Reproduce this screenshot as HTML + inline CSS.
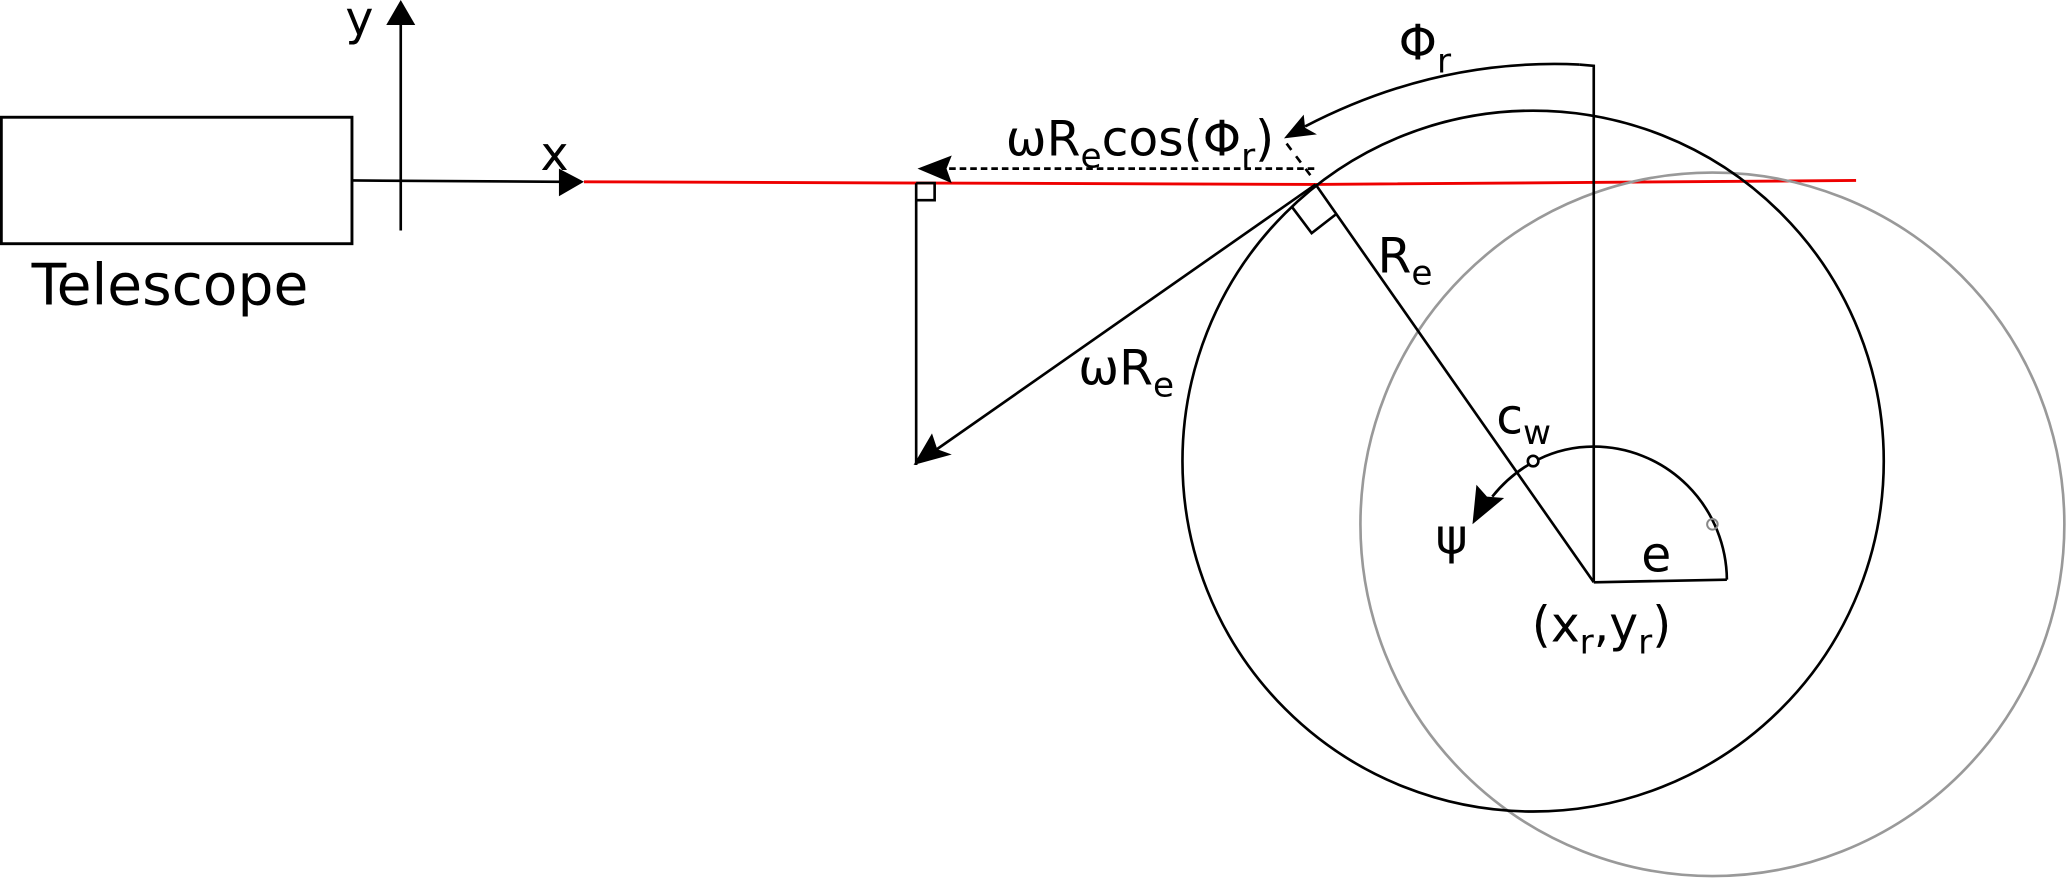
<!DOCTYPE html>
<html><head><meta charset="utf-8"><style>
html,body{margin:0;padding:0;background:#fff;}
svg{display:block;}
text{font-family:"DejaVu Sans","Liberation Sans",sans-serif;fill:#000;}
</style></head><body>
<svg width="2067" height="880" viewBox="0 0 1568 668" preserveAspectRatio="none" xmlns="http://www.w3.org/2000/svg">
<!-- telescope -->
<rect x="1" y="89" width="266" height="96" fill="none" stroke="#000" stroke-width="2.2"/>
<text x="24" y="231" font-size="43">Telescope</text>
<!-- y axis -->
<line x1="304" y1="175" x2="304" y2="16" stroke="#000" stroke-width="2"/>
<polygon points="304,0 293,19 315,19" fill="#000"/>
<text x="262" y="26" font-size="36">y</text>
<!-- x axis -->
<line x1="267" y1="137" x2="426" y2="138" stroke="#000" stroke-width="2"/>
<polygon points="443,138 424,128 424,149" fill="#000"/>
<text x="410" y="129" font-size="36">x</text>
<!-- red line -->
<polyline points="443,138 998,140 1408,137" fill="none" stroke="#e00" stroke-width="2.2"/>
<!-- circles -->
<circle cx="1299" cy="398" r="267" fill="none" stroke="#999" stroke-width="2"/>
<circle cx="1163" cy="350" r="266" fill="none" stroke="#000" stroke-width="2"/>
<!-- vertical line & phi arc -->
<polyline points="1209,442 1209,50 1198,49" fill="none" stroke="#000" stroke-width="2"/>
<path d="M1198,49 Q1090,44 990,96" fill="none" stroke="#000" stroke-width="2"/>
<polygon points="974,105 989,87 990,97 999,102" fill="#000"/>
<text x="1061" y="45" font-size="37">Φ<tspan font-size="26" dy="10">r</tspan></text>
<!-- dashed -->
<line x1="997" y1="128" x2="718" y2="128" stroke="#000" stroke-width="2" stroke-dasharray="5,3"/>
<polygon points="696,128 722,118 718,128 722,139" fill="#000"/>
<line x1="976" y1="109" x2="997" y2="137" stroke="#000" stroke-width="2" stroke-dasharray="6,6"/>
<text x="763" y="118" font-size="37">ωR<tspan font-size="26" dy="9">e</tspan><tspan dy="-9">cos(Φ</tspan><tspan font-size="26" dy="9">r</tspan><tspan dy="-9">)</tspan></text>
<!-- right angle small -->
<polyline points="695,139 709,139 709,152 695,152" fill="none" stroke="#000" stroke-width="2"/>
<line x1="695" y1="139" x2="695" y2="353" stroke="#000" stroke-width="2"/>
<!-- omega Re arrow -->
<line x1="998" y1="140" x2="705" y2="345" stroke="#000" stroke-width="2"/>
<polygon points="693,353 707,329 711,341 722,345" fill="#000"/>
<text x="818" y="292" font-size="37">ωR<tspan font-size="26" dy="9">e</tspan></text>
<!-- Re -->
<line x1="998" y1="140" x2="1209" y2="442" stroke="#000" stroke-width="2"/>
<polyline points="980,157 995,177 1013,163" fill="none" stroke="#000" stroke-width="2"/>
<text x="1045" y="207" font-size="37">R<tspan font-size="26" dy="9">e</tspan></text>
<!-- e and arc -->
<line x1="1209" y1="442" x2="1310" y2="440" stroke="#000" stroke-width="2"/>
<path d="M1310,440 A101,102 0 0 0 1209,339 C1180,339 1152,352 1132,377" fill="none" stroke="#000" stroke-width="2"/>
<polygon points="1117,398 1120,368 1128,377 1141,378" fill="#000"/>
<circle cx="1163" cy="350" r="4" fill="#fff" stroke="#000" stroke-width="2"/>
<circle cx="1299" cy="398" r="4" fill="none" stroke="#888" stroke-width="1.5"/>
<text x="1135" y="329" font-size="37">c<tspan font-size="26" dy="8">w</tspan></text>
<text x="1089" y="420" font-size="37">ψ</text>
<text x="1245" y="434" font-size="37">e</text>
<text x="1162" y="487" font-size="37">(x<tspan font-size="26" dy="9">r</tspan><tspan dy="-9">,y</tspan><tspan font-size="26" dy="9">r</tspan><tspan dy="-9">)</tspan></text>
</svg>
</body></html>
